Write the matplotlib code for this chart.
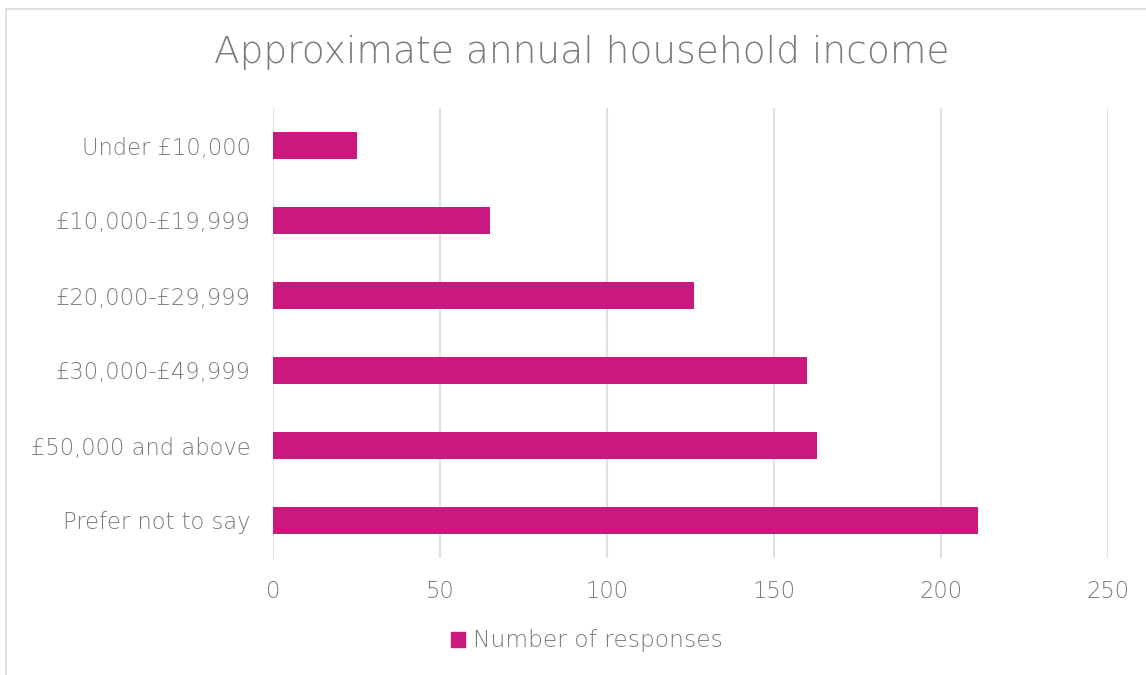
import matplotlib
matplotlib.use("Agg")
import matplotlib.pyplot as plt
from matplotlib.patches import Rectangle, Patch

categories = ["Under £10,000", "£10,000-£19,999", "£20,000-£29,999",
              "£30,000-£49,999", "£50,000 and above", "Prefer not to say"]
values = [25, 65, 126, 160, 163, 211]
xticks = [0, 50, 100, 150, 200, 250]
title = "Approximate annual household income"
series_name = "Number of responses"

BAR = "#C9197F"
TXT = "#7A7A7A"
GRID = "#E0E0E0"
FONT = ["DejaVu Sans"]
WT = 200

fig = plt.figure(figsize=(11.46, 6.75), dpi=100)
W, H = 1146, 675
ax = fig.add_axes([273 / W, 1 - 558 / H, (1108 - 273) / W, (558 - 108) / H])

ypos = list(range(len(categories)))
ax.barh(ypos, values, height=0.35, color=BAR, zorder=3)
ax.set_ylim(len(categories) - 0.5, -0.5)
ax.set_xlim(0, 250)
ax.set_xticks(xticks)
ax.set_yticks(ypos)
ax.set_yticklabels(categories, fontsize=16.3, color=TXT, family=FONT, weight=WT)
ax.set_xticklabels([str(t) for t in xticks], fontsize=16.3, color=TXT, family=FONT, weight=WT)
ax.tick_params(axis="both", length=0)
ax.tick_params(axis="y", pad=16)
ax.tick_params(axis="x", pad=16)
ax.grid(axis="x", color=GRID, linewidth=1.5, zorder=0)
for s in ax.spines.values():
    s.set_visible(False)

fig.text(0.5 * (213 + 950) / W, 1 - 52 / H, title, ha="center", va="center",
         fontsize=27, color=TXT, family=FONT, weight=WT)

leg = fig.legend(handles=[Patch(color=BAR, label=series_name)],
                 loc="center", bbox_to_anchor=(587 / W, 1 - 641 / H),
                 frameon=False, handlelength=0.6, handleheight=0.6, handletextpad=0.35,
                 prop={"family": FONT, "size": 16.8, "weight": WT})
for t in leg.get_texts():
    t.set_color(TXT)

fig.patches.append(Rectangle((6 / W, -0.1), 1.2, 1 - 9 / H + 0.1, transform=fig.transFigure,
                             fill=False, edgecolor="#D9D9D9", linewidth=1.2))

fig.savefig("out.png", dpi=100)
